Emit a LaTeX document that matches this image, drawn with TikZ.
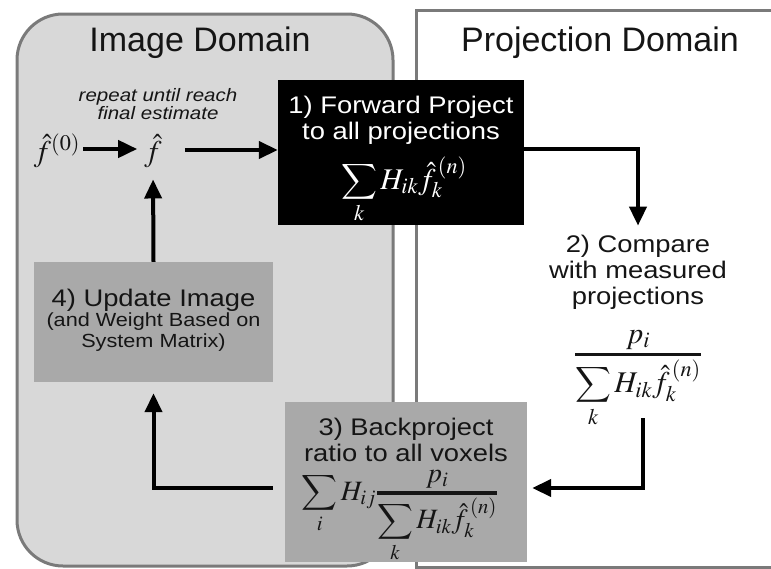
\documentclass[tikz,border=0pt]{standalone}
\usepackage{amsmath}
\usepackage{mathptmx}
\usepackage{exscale}
\usepackage[no-math]{fontspec}
\setmainfont{Liberation Sans}
\newfontfamily\wideface[FakeStretch=1.14]{Liberation Sans}
\usetikzlibrary{arrows.meta}

\definecolor{domainedge}{HTML}{7A7A7A}
\definecolor{domainfill}{HTML}{D8D8D8}
\definecolor{stepfill}{HTML}{A9A9A9}
\definecolor{ink}{HTML}{151515}

\tikzset{
  domainbox/.style={draw=domainedge, line width=3pt, inner sep=0pt},
  domaintitle/.style={font=\fontsize{34}{36}\selectfont, text=ink},
  stepbox/.style={inner sep=0pt, align=center, text=ink},
  mathnode/.style={inner sep=1pt, text=ink, anchor=base, font=\fontsize{30}{32}\selectfont},
  bodytext/.style={font=\wideface\fontsize{24}{26}\selectfont},
  flow/.style={line width=4pt, draw=black, -{Triangle[length=19pt,width=17pt]}},
}
% ratio of measured to estimated projections
\newcommand{\projratio}{\genfrac{}{}{3.5pt}{1}{\textstyle p_i}{\displaystyle\sum_k H_{ik}\hat{f}_k^{\,(n)}}}

\begin{document}
\begin{tikzpicture}[x=1pt, y=-1pt]
  \useasboundingbox (0,0) rectangle (771,568);
  \clip (0,0) rectangle (771,568);

  % the two domains
  \node[domainbox, fill=domainfill, rounded corners=46pt,
        minimum width=376pt, minimum height=552pt] (imgdom) at (205,290) {};
  \node[domainbox, fill=white, anchor=north west,
        minimum width=420pt, minimum height=557pt] (projdom) at (415,9) {};
  \node[domaintitle] (imgtitle) at (200,43) {Image Domain};
  \node[domaintitle] (projtitle) at (600,43) {Projection Domain};

  % current estimate
  \node[text=ink, align=center, inner sep=0pt,
        font=\wideface\itshape\fontsize{18}{18}\selectfont] (note) at (158,104)
        {repeat until reach\\final estimate};
  \node[mathnode] (f0) at (57,161) {$\hat{f}^{(0)}$};
  \node[mathnode] (fhat) at (153,161) {$\hat{f}$};

  % 1) forward projection
  \node[stepbox, fill=black, text=white, minimum width=246pt, minimum height=145pt]
        (fwd) at (401,152.5) {};
  \node[bodytext, text=white, align=center, inner sep=0pt] (fwdtext) at (401,120)
        {1) Forward Project\\to all projections};
  \node[mathnode, text=white] (fwdsum) at (404,189)
        {$\displaystyle\sum_k H_{ik}\hat{f}_k^{\,(n)}$};

  % 2) comparison
  \node[bodytext, align=center, inner sep=0pt, text=ink] (cmp) at (638,272)
        {2) Compare\\with measured\\projections};
  \node[mathnode] (ratio) at (638,362) {$\projratio$};

  % 3) backprojection
  \node[stepbox, fill=stepfill, minimum width=242pt, minimum height=160pt]
        (back) at (406,482) {};
  \node[bodytext, align=center, inner sep=0pt, text=ink] (backtext) at (406,440)
        {3) Backproject\\ratio to all voxels};
  \node[mathnode, font=\fontsize{28}{30}\selectfont] (backsum) at (400,500)
        {$\displaystyle\sum_i H_{ij}\projratio$};

  % 4) image update
  \node[stepbox, fill=stepfill, minimum width=239pt, minimum height=120pt]
        (upd) at (153.5,322) {};
  \node[align=center, inner sep=0pt, text=ink] (updtext) at (153.5,320)
        {{\wideface\fontsize{24}{26}\selectfont 4) Update Image}\\[1pt]
         {\wideface\fontsize{19}{23}\selectfont (and Weight Based on}\\[2pt]
         {\wideface\fontsize{19}{23}\selectfont System Matrix)}};

  % iteration loop
  \draw[flow, shorten <=2pt, shorten >=6pt]
        ([yshift=12pt]f0.base east) -- ([yshift=12pt]fhat.base west);
  \draw[flow, shorten <=22pt]
        ([yshift=11pt]fhat.base east) -- ([yshift=11pt]fhat.base east -| fwd.west);
  \draw[flow, shorten >=9pt] ([yshift=4pt]fwd.east) -| (cmp.north);
  \draw[flow, shorten <=-2pt, shorten >=5pt]
        ([xshift=5pt,yshift=8pt]ratio.south) |- ([yshift=-6pt]back.east);
  \draw[flow, shorten <=12pt, shorten >=11pt] ([yshift=-6pt]back.west) -| (upd.south);
  \draw[flow, shorten >=11pt] (upd.north) -- (fhat.south);
\end{tikzpicture}
\end{document}
